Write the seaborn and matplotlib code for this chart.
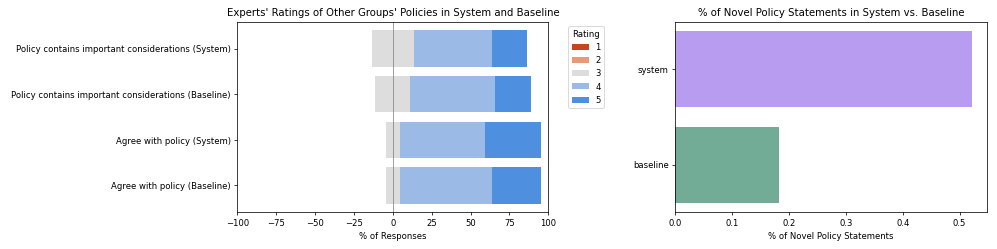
import numpy as np
import pandas as pd
import matplotlib
matplotlib.use("Agg")
import matplotlib.pyplot as plt
import seaborn as sns

# ---- data ----
questions = [
    "Policy contains important considerations (System)",
    "Policy contains important considerations (Baseline)",
    "Agree with policy (System)",
    "Agree with policy (Baseline)",
]
rating_1 = [0.0, 0.0, 0.0, 0.0]
rating_2 = [0.0, 0.0, 0.0, 0.0]
rating_3 = [27.3, 22.7, 9.1, 9.1]
rating_4 = [50.0, 54.5, 54.5, 59.1]
rating_5 = [22.7, 22.7, 36.4, 31.8]
rating_labels = ["1", "2", "3", "4", "5"]
rating_colors = ["#c8441c", "#e8997a", "#dddddd", "#9bbae5", "#4f8fe0"]

groups = ["system", "baseline"]
novel_share = [0.522, 0.183]
group_colors = ["#b89cf0", "#72ab96"]

plt.rcParams["font.family"] = ["DejaVu Sans"]
plt.rcParams["font.size"] = 9.2
fig = plt.figure(figsize=(15, 3.75), dpi=997 / 15)
ax1 = fig.add_axes([0.238, 0.147, 0.312, 0.765])
ax2 = fig.add_axes([0.677, 0.147, 0.313, 0.765])

# ---- left: diverging stacked bar ----
df = pd.DataFrame({"question": questions, "1": rating_1, "2": rating_2,
                   "3": rating_3, "4": rating_4, "5": rating_5})
r1 = np.array(rating_1); r2 = np.array(rating_2); r3 = np.array(rating_3)
r4 = np.array(rating_4); r5 = np.array(rating_5)
y = np.arange(len(questions))
starts = {
    "1": -(r1 + r2 + r3 / 2),
    "2": -(r2 + r3 / 2),
    "3": -r3 / 2,
    "4": r3 / 2,
    "5": r3 / 2 + r4,
}
for lab, col in zip(rating_labels, rating_colors):
    ax1.barh(y, df[lab].values, left=starts[lab], height=0.8, color=col, label=lab)
ax1.axvline(0, color="gray", linewidth=1, alpha=0.8)
ax1.set_xlim(-100, 100)
ax1.set_yticks(y)
ax1.set_yticklabels(questions)
ax1.invert_yaxis()
ax1.set_xlabel("% of Responses")
ax1.set_title("Experts' Ratings of Other Groups' Policies in System and Baseline")
ax1.legend(title="Rating", loc="upper left", bbox_to_anchor=(1.05, 1.0))

# ---- right: seaborn barplot ----
df2 = pd.DataFrame({"group": groups, "share": novel_share})
sns.barplot(data=df2, y="group", x="share", hue="group", palette=group_colors,
            saturation=1, orient="h", legend=False, ax=ax2)
ax2.set_ylabel("")
ax2.set_xlabel("% of Novel Policy Statements")
ax2.set_title("% of Novel Policy Statements in System vs. Baseline")
ax2.set_xlim(0, 0.5481)

fig.savefig("out.png", dpi=997 / 15)
